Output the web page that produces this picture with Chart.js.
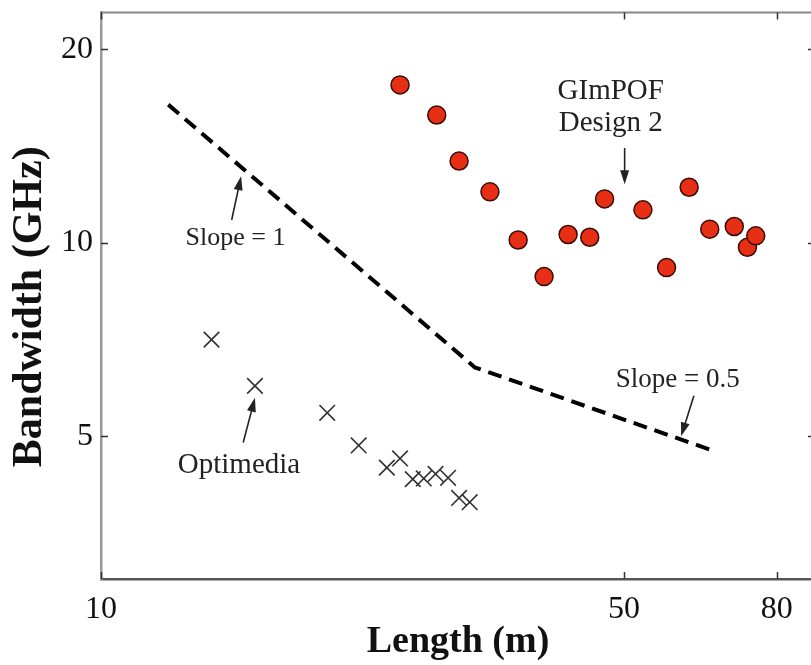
<!DOCTYPE html>
<html>
<head>
<meta charset="utf-8">
<script src="https://cdn.jsdelivr.net/npm/chart.js@4/dist/chart.umd.min.js"></script>
<style>
  html, body { margin: 0; padding: 0; background: #fff; overflow: hidden; }
  #wrap { width: 811px; height: 665px; overflow: hidden; }
  canvas { display: block; }
</style>
</head>
<body>
<div id="wrap"><canvas id="chart" width="830" height="665"></canvas></div>
<script>
// Graded-index microstructured POF (design 2): bandwidth vs length
const lengthGImPOF    = [25.1, 28.1, 30.1, 33.1, 36.1, 39.1, 42.1, 45.0, 47.1, 53.0, 57.0, 61.1, 65.1, 70.2, 73.1, 75.0];
const bandwidthGImPOF = [17.6, 15.8, 13.4, 12.0, 10.1, 8.86, 10.3, 10.2, 11.7, 11.25, 9.15, 12.2, 10.5, 10.6, 9.84, 10.25];

// Optimedia fibre measurements
const lengthOptimedia    = [14.05, 16.06, 20.06, 22.1, 24.1, 25.1, 26.1, 27.0, 28.0, 29.1, 30.1, 31.1];
const bandwidthOptimedia = [7.07, 5.99, 5.44, 4.84, 4.47, 4.62, 4.29, 4.30, 4.37, 4.31, 4.01, 3.95];

// Reference trend: slope 1 then slope 0.5 (log-log)
const lengthTrend    = [12.3, 31.6, 66.1];
const bandwidthTrend = [16.4, 6.4, 4.74];

// Axis ticks
const lengthTicks    = [10, 50, 80];
const bandwidthTicks = [5, 10, 20];

const yTitle = 'Bandwidth (GHz)';
const serif = '"Liberation Serif", "Times New Roman", serif';

function toPoints(xs, ys) { return xs.map((x, i) => ({ x: x, y: ys[i] })); }

// Text labels with pointer arrows, anchored in data coordinates
const notes = [
  { lines: ['Slope = 1'], at: [15.13, 10.15], size: 26, arrow: [[14.95, 10.85], [15.39, 12.69]] },
  { lines: ['Optimedia'], at: [15.29, 4.50], size: 29, arrow: [[15.49, 4.89], [16.06, 5.74]] },
  { lines: ['GImPOF', 'Design 2'], at: [48.0, 16.25], size: 29, lineGap: 32, arrow: [[50.1, 14.04], [50.1, 12.33]] },
  { lines: ['Slope = 0.5'], at: [59.0, 6.12], size: 27, arrow: [[62.0, 5.78], [59.6, 5.0]] }
];

const frameTicks = {
  id: 'frameTicks',
  afterDraw(chart) {
    const { ctx, chartArea: a, scales } = chart;
    ctx.save();
    // top and right frame lines
    ctx.strokeStyle = '#888';
    ctx.lineWidth = 2;
    ctx.beginPath();
    ctx.moveTo(a.left, a.top); ctx.lineTo(a.right, a.top);
    ctx.moveTo(a.right, a.top); ctx.lineTo(a.right, a.bottom);
    ctx.stroke();
    // inward tick marks on all four sides
    ctx.strokeStyle = '#333';
    ctx.lineWidth = 1.5;
    const len = 7;
    ctx.beginPath();
    lengthTicks.forEach(v => {
      const px = Math.round(scales.x.getPixelForValue(v)) + 0.5;
      ctx.moveTo(px, a.bottom); ctx.lineTo(px, a.bottom - len);
      ctx.moveTo(px, a.top); ctx.lineTo(px, a.top + len);
    });
    bandwidthTicks.forEach(v => {
      const py = Math.round(scales.y.getPixelForValue(v)) + 0.5;
      ctx.moveTo(a.left, py); ctx.lineTo(a.left + len, py);
      ctx.moveTo(a.right, py); ctx.lineTo(a.right - len, py);
    });
    ctx.stroke();
    // vertical axis title, rotated, sitting slightly below the plot centre
    ctx.fillStyle = '#111';
    ctx.font = 'bold 42px ' + serif;
    ctx.textAlign = 'center';
    ctx.textBaseline = 'middle';
    ctx.translate(30, (a.top + a.bottom) / 2 + 11);
    ctx.rotate(-Math.PI / 2);
    ctx.fillText(yTitle, 0, 0);
    ctx.restore();
  }
};

const annotations = {
  id: 'annotations',
  afterDatasetsDraw(chart) {
    const { ctx, scales } = chart;
    const X = v => scales.x.getPixelForValue(v);
    const Y = v => scales.y.getPixelForValue(v);
    ctx.save();
    ctx.fillStyle = '#222';
    ctx.strokeStyle = '#222';
    ctx.textAlign = 'center';
    ctx.textBaseline = 'middle';
    notes.forEach(n => {
      ctx.font = n.size + 'px ' + serif;
      const gap = n.lineGap || 0;
      const cx = X(n.at[0]);
      const cy = Y(n.at[1]) - gap * (n.lines.length - 1) / 2;
      n.lines.forEach((t, i) => ctx.fillText(t, cx, cy + i * gap));
      if (n.arrow) {
        const x0 = X(n.arrow[0][0]), y0 = Y(n.arrow[0][1]);
        const x1 = X(n.arrow[1][0]), y1 = Y(n.arrow[1][1]);
        const ang = Math.atan2(y1 - y0, x1 - x0);
        const hl = 14, hw = 4.5;
        ctx.lineWidth = 1.6;
        ctx.beginPath();
        ctx.moveTo(x0, y0);
        ctx.lineTo(x1 - Math.cos(ang) * hl * 0.8, y1 - Math.sin(ang) * hl * 0.8);
        ctx.stroke();
        ctx.beginPath();
        ctx.moveTo(x1, y1);
        ctx.lineTo(x1 - Math.cos(ang) * hl - Math.sin(ang) * hw, y1 - Math.sin(ang) * hl + Math.cos(ang) * hw);
        ctx.lineTo(x1 - Math.cos(ang) * hl + Math.sin(ang) * hw, y1 - Math.sin(ang) * hl - Math.cos(ang) * hw);
        ctx.closePath();
        ctx.fill();
      }
    });
    ctx.restore();
  }
};

new Chart(document.getElementById('chart'), {
  type: 'scatter',
  data: {
    datasets: [
      {
        label: 'Trend',
        type: 'line',
        data: toPoints(lengthTrend, bandwidthTrend),
        borderColor: '#000',
        borderWidth: 4,
        borderDash: [14, 8],
        pointRadius: 0,
        fill: false,
        tension: 0
      },
      {
        label: 'GImPOF Design 2',
        data: toPoints(lengthGImPOF, bandwidthGImPOF),
        pointStyle: 'circle',
        pointRadius: 9,
        backgroundColor: '#e62f15',
        borderColor: '#3a0c05',
        borderWidth: 1.5
      },
      {
        label: 'Optimedia',
        data: toPoints(lengthOptimedia, bandwidthOptimedia),
        pointStyle: 'crossRot',
        pointRadius: 11,
        borderColor: '#333',
        borderWidth: 1.6
      }
    ]
  },
  options: {
    responsive: false,
    animation: false,
    events: [],
    layout: { padding: { top: 10, right: 15, left: 0, bottom: 0 } },
    plugins: { legend: { display: false }, tooltip: { enabled: false } },
    scales: {
      x: {
        type: 'logarithmic',
        min: 10,
        max: 90,
        grid: { display: false, drawTicks: false },
        border: { display: true, color: '#555', width: 2.5 },
        afterBuildTicks: s => { s.ticks = lengthTicks.map(v => ({ value: v })); },
        afterFit: s => { s.height = 86; s.paddingLeft = 0; s.paddingRight = 0; },
        ticks: {
          autoSkip: false,
          maxRotation: 0,
          padding: 11,
          color: '#111',
          font: { family: serif, size: 32 },
          callback: v => String(v)
        },
        title: {
          display: true,
          text: 'Length (m)',
          color: '#111',
          font: { family: serif, size: 38, weight: 'bold', lineHeight: 1.1 },
          padding: { top: 0, bottom: 2 }
        }
      },
      y: {
        type: 'logarithmic',
        min: 3,
        max: 22.8,
        grid: { display: false, drawTicks: false },
        border: { display: true, color: '#999', width: 2.5 },
        afterBuildTicks: s => { s.ticks = bandwidthTicks.map(v => ({ value: v })); },
        afterFit: s => { s.width = 101; s.paddingTop = 0; s.paddingBottom = 0; },
        ticks: {
          autoSkip: false,
          padding: 8,
          color: '#111',
          font: { family: serif, size: 32 },
          callback: v => String(v)
        },
        title: { display: false }
      }
    }
  },
  plugins: [frameTicks, annotations]
});
</script>
</body>
</html>
